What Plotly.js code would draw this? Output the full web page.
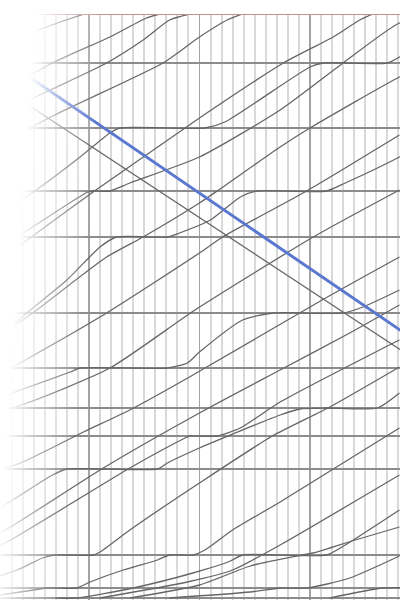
<!DOCTYPE html>
<html>
<head>
<meta charset="utf-8">
<script src="https://cdn.plot.ly/plotly-3.0.1.min.js"></script>
<style>
  html, body { margin: 0; padding: 0; background: #fff; }
  #wrap { position: relative; width: 400px; height: 600px; overflow: hidden; }
  #chart { width: 400px; height: 600px; }
  #fade { position: absolute; left: 0; top: 0; width: 400px; height: 600px; pointer-events: none;
          background: linear-gradient(94deg, #fff 0%, #fff 8%, rgba(255,255,255,0.55) 14%, rgba(255,255,255,0) 24%); }
</style>
</head>
<body>
<div id="wrap"><div id="chart"></div><div id="fade"></div></div>
<script>
// Station positions (km from the bottom terminus)
const stationKm = [58.4, 53.5, 47.0, 40.7, 36.1, 28.5, 23.0, 19.0, 16.2, 12.9, 4.3, 1.0, 0];
// Time grid (minutes): ten-minute marks and one-minute marks
const tenMinuteTicks = [0, 10, 20];
const minuteTicks = [-8, -7, -6, -5, -4, -3, -2, -1, 1, 2, 3, 4, 5, 6, 7, 8, 9,
  11, 12, 13, 14, 15, 16, 17, 18, 19, 21, 22, 23, 24, 25, 26, 27, 28];

// Up trains: time (minutes) and position (km)
const u0Min = [-11.7, -5.3, -2.6, -0.4];
const u0Km  = [53.8, 56.5, 57.6, 58.4];
const u1Min = [-13.5, -3.3, 1.9, 5.2, 6.4];
const u1Km  = [47.0, 53.5, 56.1, 58.0, 58.4];
const u2Min = [-10.8, -3.5, 1.6, 4.9, 7.3, 9.1];
const u2Km  = [47.0, 50.8, 53.5, 55.8, 57.8, 58.4];
const u3Min = [-9.0, -3.1, 6.7, 10.0, 12.5, 13.9];
const u3Km  = [44.8, 48.3, 53.5, 56.1, 57.8, 58.4];
const u5Min = [-9.9, 0.5, 8.7, 10.0, 17.6, 22.1, 24.5, 25.7];
const u5Km  = [32.3, 40.7, 47.0, 48.0, 53.5, 56.1, 57.8, 58.4];
const utMin = [-9.9, -5.1, -0.1, 0.4, 1.9, 3.7, 10.0, 17.3, 23.0, 28.1, 31.8];
const utKm  = [33.6, 37.1, 40.6, 40.7, 40.7, 41.5, 44.1, 48.8, 53.5, 57.5, 58.4];
const uaMin = [-11.7, -4.9, -0.8, 1.9, 2.8, 10.5, 12.3, 20.0, 21.2, 27.0, 28.1, 31.8];
const uaKm  = [35.8, 40.7, 44.1, 46.5, 47.0, 47.0, 47.6, 53.1, 53.5, 53.5, 54.1, 56.8];
const uqMin = [-9.9, -5.1, 1.6, 4.9, 10.0, 11.6, 17.3, 20.0, 28.1, 30.9];
const uqKm  = [24.8, 28.5, 34.1, 36.1, 39.5, 40.7, 45.1, 47.0, 52.1, 53.5];
const ubMin = [-9.0, -5.3, -2.0, 1.0, 2.5, 7.1, 8.2, 11.0, 13.7, 15.2, 21.5, 23.2, 28.1, 32.7];
const ubKm  = [25.3, 28.8, 31.8, 35.1, 36.1, 36.1, 36.5, 37.8, 40.1, 40.7, 40.7, 41.5, 44.1, 47.0];
const urMin = [-9.9, -6.9, 1.6, 10.0, 12.1, 19.7, 28.1];
const urKm  = [21.3, 23.1, 28.5, 34.5, 36.1, 40.7, 46.3];
const usMin = [-10.8, -5.6, 1.9, 9.6, 20.3, 28.1];
const usKm  = [17.8, 19.5, 23.0, 28.8, 36.1, 40.8];
const ucMin = [-9.9, -6.2, -1.7, -0.8, 7.1, 8.9, 10.0, 13.9, 16.7, 23.0, 24.8, 28.1];
const ucKm  = [19.3, 20.8, 22.6, 23.0, 23.0, 23.5, 24.6, 27.8, 28.5, 28.5, 29.1, 30.8];
const umMin = [-9.9, -6.2, -0.5, 3.7, 9.1, 21.1, 28.1];
const umKm  = [12.3, 13.5, 16.6, 18.8, 22.1, 29.8, 34.1];
const ukMin = [-11.7, -7.1, 1.3, 10.0, 17.3, 23.6, 28.1];
const ukKm  = [4.3, 7.1, 13.0, 18.5, 22.8, 26.5, 29.3];
const ulMin = [-10.8, -7.1, 3.7, 8.7, 9.1, 11.6, 13.7, 17.3, 26.3, 28.1];
const ulKm  = [3.8, 5.8, 13.0, 16.0, 16.2, 16.2, 17.0, 19.6, 24.8, 25.8];
const udMin = [-9.9, -6.9, -3.3, -2.0, 6.2, 7.1, 10.0, 17.3, 19.1, 21.5, 26.1, 28.1];
const udKm  = [7.8, 9.8, 12.3, 12.9, 12.9, 13.5, 15.0, 18.3, 18.9, 19.0, 19.0, 20.5];
const ueMin = [-10.8, -6.5, -4.2, -3.1, 0.4, 1.0, 3.7, 10.0, 16.6, 21.8, 28.1];
const ueKm  = [1.3, 2.8, 4.0, 4.3, 4.3, 4.6, 6.8, 11.5, 16.2, 19.1, 23.1];
const ufMin = [-9.9, -4.4, -3.8, -1.1, 0.1, 3.1, 6.2, 7.3, 9.4, 10.5, 13.0, 17.3, 28.1];
const ufKm  = [0, 0.9, 1.0, 1.0, 1.6, 2.8, 3.8, 4.3, 4.3, 4.8, 6.8, 9.6, 17.0];
const ugMin = [-3.0, -1.1, 4.0, 9.4, 12.8, 13.9, 21.5, 23.2, 28.1];
const ugKm  = [0, 0, 1.0, 2.5, 3.7, 4.3, 4.3, 5.3, 8.8];
const uhMin = [1.0, 8.9, 13.0, 17.3, 28.1];
const uhKm  = [0, 1.6, 2.8, 5.3, 12.3];
const uh2Min = [3.7, 10.0, 14.6, 18.8, 20.3, 24.1, 28.1];
const uh2Km  = [0, 1.3, 3.2, 4.2, 4.5, 5.8, 7.1];
const uiMin = [7.3, 14.6, 17.3, 19.8, 23.6, 28.1];
const uiKm  = [0, 0.6, 1.0, 1.0, 2.0, 4.2];
const ujMin = [21.8, 26.6, 30.0];
const ujKm  = [0, 1.0, 1.0];

// Down trains
const downGrayMin = [-9.9, 30.0];
const downGrayKm  = [52.5, 23.5];
const downBlueMin = [-9.9, 30.0];
const downBlueKm  = [55.5, 25.4];

const upTrains = [
  [u0Min, u0Km], [u1Min, u1Km], [u2Min, u2Km], [u3Min, u3Km], [u5Min, u5Km],
  [utMin, utKm], [uaMin, uaKm], [uqMin, uqKm], [ubMin, ubKm], [urMin, urKm],
  [usMin, usKm], [ucMin, ucKm], [umMin, umKm], [ukMin, ukKm], [ulMin, ulKm],
  [udMin, udKm], [ueMin, ueKm], [ufMin, ufKm], [ugMin, ugKm], [uhMin, uhKm],
  [uh2Min, uh2Km], [uiMin, uiKm], [ujMin, ujKm]
];

const traces = upTrains.map(([t, d]) => ({
  x: t, y: d, type: 'scatter', mode: 'lines',
  line: { color: '#666666', width: 1.3, shape: 'spline', smoothing: 0.6 }, hoverinfo: 'skip'
}));
traces.push({ x: downGrayMin, y: downGrayKm, type: 'scatter', mode: 'lines',
  line: { color: '#666666', width: 1.3 }, hoverinfo: 'skip' });
traces.push({ x: downBlueMin, y: downBlueKm, type: 'scatter', mode: 'lines',
  line: { color: '#5b78d0', width: 3 }, hoverinfo: 'skip' });

const layout = {
  width: 400, height: 600,
  margin: { l: 0, r: 0, t: 14, b: 0, pad: 0 },
  paper_bgcolor: '#fff', plot_bgcolor: '#fff',
  showlegend: false,
  xaxis: {
    range: [-8.05, 28.15], showticklabels: false, ticks: '', zeroline: false, showline: false,
    tickmode: 'array', tickvals: tenMinuteTicks, showgrid: true, gridcolor: '#a3a3a3', gridwidth: 1.5,
    minor: { tickmode: 'array', tickvals: minuteTicks, showgrid: true, gridcolor: '#d9d9d9', gridwidth: 2, ticks: '' }
  },
  yaxis: {
    range: [-0.2, 58.4], showticklabels: false, ticks: '', zeroline: false, showline: false,
    tickmode: 'array', tickvals: stationKm, showgrid: true, gridcolor: '#8c8c8c', gridwidth: 1.2
  },
  shapes: [
    { type: 'line', xref: 'paper', x0: 0, x1: 1, yref: 'y', y0: stationKm[0], y1: stationKm[0],
      line: { color: '#c48f8f', width: 2 } },
    { type: 'line', xref: 'paper', x0: 0, x1: 1, yref: 'y', y0: 0, y1: 0,
      line: { color: '#555', width: 2 }, layer: 'below' }
  ]
};

Plotly.newPlot('chart', traces, layout, { displayModeBar: false, staticPlot: true });
</script>
</body>
</html>
